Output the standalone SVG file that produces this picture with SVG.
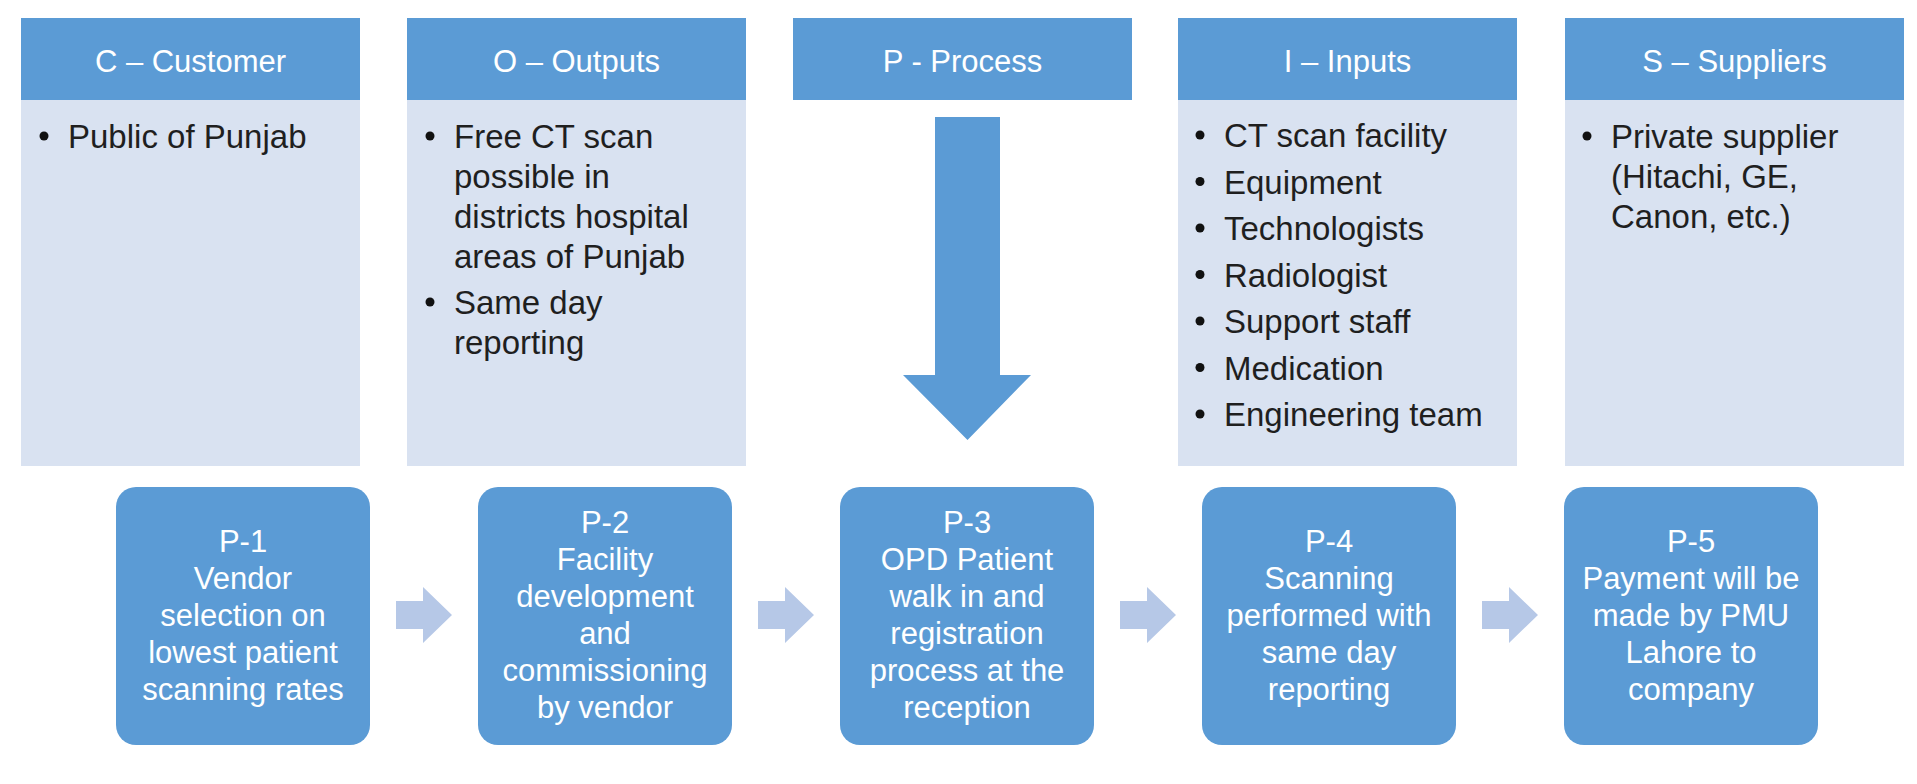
<svg xmlns="http://www.w3.org/2000/svg" width="1917" height="784" viewBox="0 0 1917 784">
<style>
.hdr{fill:#5b9bd5}
.body{fill:#d9e2f1}
.ht{font-family:"Liberation Sans",Arial,sans-serif;font-size:31px;fill:#ffffff;text-anchor:middle}
.bt{font-family:"Liberation Sans",Arial,sans-serif;font-size:33px;fill:#1f1f1f}
.dot{fill:#111111}
.pbox{fill:#5b9bd5}
.pt{font-family:"Liberation Sans",Arial,sans-serif;font-size:31px;fill:#ffffff;text-anchor:middle}
.sa{fill:#b6c8e7}
.big{fill:#5b9bd5}
</style>
<rect x="0" y="0" width="1917" height="784" fill="#ffffff"/>

<g id="col-customer">
<rect class="hdr" x="21" y="18" width="339" height="82"/>
<rect class="body" x="21" y="100" width="339" height="366"/>
<text class="ht" x="190.5" y="72">C – Customer</text>
<circle class="dot" cx="44" cy="136" r="4.5"/>
<text class="bt" x="68" y="148">Public of Punjab</text>
</g>

<g id="col-outputs">
<rect class="hdr" x="407" y="18" width="339" height="82"/>
<rect class="body" x="407" y="100" width="339" height="366"/>
<text class="ht" x="576.5" y="72">O – Outputs</text>
<circle class="dot" cx="430" cy="136" r="4.5"/>
<text class="bt" x="454" y="148">Free CT scan</text>
<text class="bt" x="454" y="188">possible in</text>
<text class="bt" x="454" y="228">districts hospital</text>
<text class="bt" x="454" y="268">areas of Punjab</text>
<circle class="dot" cx="430" cy="302" r="4.5"/>
<text class="bt" x="454" y="314">Same day</text>
<text class="bt" x="454" y="354">reporting</text>
</g>

<g id="col-process">
<rect class="hdr" x="793" y="18" width="339" height="82"/>
<text class="ht" x="962.5" y="72">P - Process</text>
<polygon class="big" points="935,117 1000,117 1000,375 1031,375 967.5,440 903,375 935,375"/>
</g>

<g id="col-inputs">
<rect class="hdr" x="1178" y="18" width="339" height="82"/>
<rect class="body" x="1178" y="100" width="339" height="366"/>
<text class="ht" x="1347.5" y="72">I – Inputs</text>
<circle class="dot" cx="1200" cy="135" r="4.5"/>
<text class="bt" x="1224" y="147">CT scan facility</text>
<circle class="dot" cx="1200" cy="181.5" r="4.5"/>
<text class="bt" x="1224" y="193.5">Equipment</text>
<circle class="dot" cx="1200" cy="228" r="4.5"/>
<text class="bt" x="1224" y="240">Technologists</text>
<circle class="dot" cx="1200" cy="274.5" r="4.5"/>
<text class="bt" x="1224" y="286.5">Radiologist</text>
<circle class="dot" cx="1200" cy="321" r="4.5"/>
<text class="bt" x="1224" y="333">Support staff</text>
<circle class="dot" cx="1200" cy="367.5" r="4.5"/>
<text class="bt" x="1224" y="379.5">Medication</text>
<circle class="dot" cx="1200" cy="414" r="4.5"/>
<text class="bt" x="1224" y="426">Engineering team</text>
</g>

<g id="col-suppliers">
<rect class="hdr" x="1565" y="18" width="339" height="82"/>
<rect class="body" x="1565" y="100" width="339" height="366"/>
<text class="ht" x="1734.5" y="72">S – Suppliers</text>
<circle class="dot" cx="1587" cy="136" r="4.5"/>
<text class="bt" x="1611" y="148">Private supplier</text>
<text class="bt" x="1611" y="188">(Hitachi, GE,</text>
<text class="bt" x="1611" y="228">Canon, etc.)</text>
</g>

<g id="p1">
<rect class="pbox" x="116" y="487" width="254" height="258" rx="20"/>
<text class="pt" x="243" y="552">P-1</text>
<text class="pt" x="243" y="589">Vendor</text>
<text class="pt" x="243" y="626">selection on</text>
<text class="pt" x="243" y="663">lowest patient</text>
<text class="pt" x="243" y="700">scanning rates</text>
</g>

<g id="p2">
<rect class="pbox" x="478" y="487" width="254" height="258" rx="20"/>
<text class="pt" x="605" y="533">P-2</text>
<text class="pt" x="605" y="570">Facility</text>
<text class="pt" x="605" y="607">development</text>
<text class="pt" x="605" y="644">and</text>
<text class="pt" x="605" y="681">commissioning</text>
<text class="pt" x="605" y="718">by vendor</text>
</g>

<g id="p3">
<rect class="pbox" x="840" y="487" width="254" height="258" rx="20"/>
<text class="pt" x="967" y="533">P-3</text>
<text class="pt" x="967" y="570">OPD Patient</text>
<text class="pt" x="967" y="607">walk in and</text>
<text class="pt" x="967" y="644">registration</text>
<text class="pt" x="967" y="681">process at the</text>
<text class="pt" x="967" y="718">reception</text>
</g>

<g id="p4">
<rect class="pbox" x="1202" y="487" width="254" height="258" rx="20"/>
<text class="pt" x="1329" y="552">P-4</text>
<text class="pt" x="1329" y="589">Scanning</text>
<text class="pt" x="1329" y="626">performed with</text>
<text class="pt" x="1329" y="663">same day</text>
<text class="pt" x="1329" y="700">reporting</text>
</g>

<g id="p5">
<rect class="pbox" x="1564" y="487" width="254" height="258" rx="20"/>
<text class="pt" x="1691" y="552">P-5</text>
<text class="pt" x="1691" y="589">Payment will be</text>
<text class="pt" x="1691" y="626">made by PMU</text>
<text class="pt" x="1691" y="663">Lahore to</text>
<text class="pt" x="1691" y="700">company</text>
</g>

<g id="connectors">
<polygon class="sa" points="396,601 423,601 423,587 452,615 423,643 423,629 396,629"/>
<polygon class="sa" points="758,601 785,601 785,587 814,615 785,643 785,629 758,629"/>
<polygon class="sa" points="1120,601 1147,601 1147,587 1176,615 1147,643 1147,629 1120,629"/>
<polygon class="sa" points="1482,601 1509,601 1509,587 1538,615 1509,643 1509,629 1482,629"/>
</g>
</svg>
